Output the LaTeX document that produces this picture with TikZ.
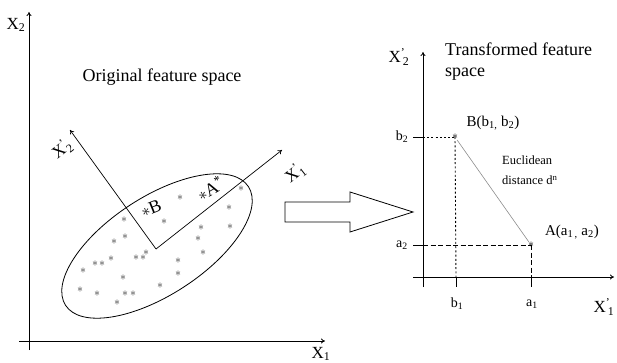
\documentclass[tikz,border=0pt]{standalone}
\usepackage{fontspec}
\setmainfont{Liberation Serif}
\usetikzlibrary{arrows.meta,positioning}

\begin{document}
\begin{tikzpicture}[x=1pt,y=-1pt,
    axis/.style={line width=0.8pt,-{To[length=4pt,width=5pt]}},
    sample/.style={inner sep=0pt,text=black!80,font=\fontsize{12}{12}\selectfont},
    axlabel/.style={font=\fontsize{17}{17}\selectfont},
    ticklabel/.style={font=\fontsize{14}{14}\selectfont},
    dotline/.style={line width=0.9pt,dash pattern=on 2pt off 2.2pt},
    dashline/.style={line width=0.9pt,dash pattern=on 5pt off 2.5pt}]
    \useasboundingbox (0,0) rectangle (617,363);

    % Original feature space
    \coordinate (ybot) at (29,350);
    \coordinate (ytop) at (29,12);
    \coordinate (xleft) at (19,341);
    \coordinate (xright) at (325,341);
    \draw[axis] (ybot) -- (ytop);
    \draw[axis] (xleft) -- (xright);
    \node[axlabel] (x2) at (16,25) {X\textsubscript{2}};
    \node[axlabel] (x1) at (321,354) {X\textsubscript{1}};
    \node[font=\fontsize{18}{18}\selectfont] (orig) at (162,77) {Original feature space};

    % rotated axes and the cluster
    \coordinate (c) at (156,249);
    \coordinate (p2) at (70,130);
    \coordinate (p1) at (282,150);
    \draw[line width=0.7pt,-{To[length=4pt,width=5pt]}] (c) -- (p2);
    \draw[line width=0.7pt,-{To[length=4pt,width=5pt]}] (c) -- (p1);
    \node[axlabel,rotate=38] (px2) at (62,149) {X\rlap{\textsuperscript{'}}\textsubscript{\,2}};
    \node[axlabel,rotate=38] (px1) at (295,173) {X\rlap{\textsuperscript{'}}\textsubscript{\,1}};
    \draw[line width=0.8pt,rotate around={33:(157,246)}] (157,246) ellipse [x radius=109, y radius=49];

    \foreach \px/\py [count=\i] in {180/198, 241/189, 229/208, 230/227, 201/228, 198/239,
        203/253, 124/220, 125/237, 114/242, 164/222, 146/253, 136/258, 143/258, 111/259,
        95/264, 102/264, 83/271, 123/278, 178/261, 178/274, 160/286, 80/290, 97/294,
        125/294, 133/294, 117/303}
        \node[sample] (s\i) at (\px,\py) {$\ast$};

    \node[font=\fontsize{18}{18}\selectfont,rotate=22,inner sep=0pt] (sB) at (151,208)
        {{\fontsize{17}{17}\selectfont$\ast$}B};
    \node[font=\fontsize{18}{18}\selectfont,rotate=30,inner sep=0pt] (sA) at (210,188)
        {{\fontsize{17}{17}\selectfont$\ast$}A\textsuperscript{*}};

    % block arrow
    \draw[line width=0.8pt] (285,202) -- (350,202) -- (350,192) -- (413,212)
        -- (350,232) -- (350,222) -- (285,222) -- cycle;

    % Transformed feature space
    \coordinate (vbot) at (423,287);
    \coordinate (vtop) at (423,52);
    \coordinate (hleft) at (413,277);
    \coordinate (hright) at (614,277);
    \draw[axis] (vbot) -- (vtop);
    \draw[axis] (hleft) -- (hright);
    \node[axlabel] (tx2) at (399,57) {X\rlap{\textsuperscript{'}}\textsubscript{\,2}};
    \node[axlabel] (tx1) at (604,307) {X\rlap{\textsuperscript{'}}\textsubscript{\,1}};
    \node[font=\fontsize{18}{21}\selectfont,align=left,anchor=north west,inner sep=0pt]
        (trans) at (445,43) {Transformed feature\\space};

    \node[sample,text=black,font=\fontsize{13}{13}\selectfont] (B) at (455,137) {$\ast$};
    \node[sample,text=black,font=\fontsize{13}{13}\selectfont] (A) at (531,245) {$\ast$};
    \node[font=\fontsize{15}{15}\selectfont] (lB) at (493,123) {B(b\textsubscript{1,} b\textsubscript{2})};
    \node[font=\fontsize{15}{15}\selectfont] (lA) at (572,232) {A(a\textsubscript{1\,,} a\textsubscript{2})};
    \draw[black!45,line width=0.6pt] (B) -- (A);
    \node[font=\fontsize{12.5}{20}\selectfont,align=left,anchor=north west,inner sep=0pt]
        (eucl) at (502,156) {Euclidean\\distance d\textsuperscript{n}};

    \coordinate (b2t) at (413,137);
    \coordinate (b2a) at (423,137);
    \coordinate (a2t) at (413,245);
    \coordinate (a2a) at (423,245);
    \coordinate (b1a) at (456,277);
    \coordinate (b1t) at (456,287);
    \coordinate (a1a) at (531,277);
    \coordinate (a1t) at (531,287);
    \draw[line width=0.8pt] (b2t) -- (b2a);
    \draw[line width=0.8pt] (a2t) -- (a2a);
    \draw[line width=0.8pt] (b1a) -- (b1t);
    \draw[line width=0.8pt] (a1a) -- (a1t);
    \draw[dotline] (b2a) -- (B.center);
    \draw[dotline] (B.center) -- (b1a);
    \draw[dashline] (a2a) -- (A.center);
    \draw[dashline] (A.center) -- (a1a);

    \node[ticklabel] (lb2) at (402,137) {b\textsubscript{2}};
    \node[ticklabel] (la2) at (402,245) {a\textsubscript{2}};
    \node[ticklabel] (lb1) at (457,304) {b\textsubscript{1}};
    \node[ticklabel] (la1) at (532,304) {a\textsubscript{1}};
\end{tikzpicture}
\end{document}
